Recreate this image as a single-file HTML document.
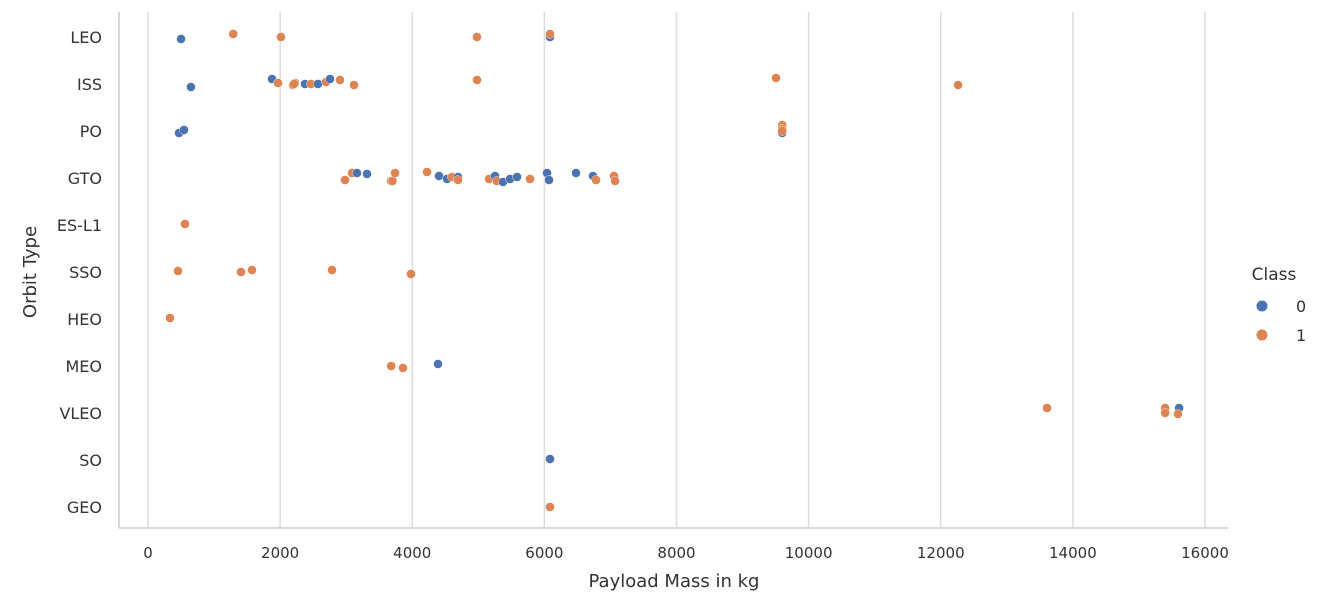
<!DOCTYPE html>
<html><head><meta charset="utf-8"><style>
body{margin:0;background:#fff;}
svg{display:block;font-family:"DejaVu Sans","Liberation Sans",sans-serif;}
</style></head><body>
<svg id="c" width="1323" height="615"></svg>
<script>
const orbits=["LEO","ISS","PO","GTO","ES-L1","SSO","HEO","MEO","VLEO","SO","GEO"];
const xTicks=[0,2000,4000,6000,8000,10000,12000,14000,16000];
const payloads=[500,1290,2013,4980,6085,6085,
650,1877,1968,2195,2225,2210,2377,2467,2573,2695,2755,2906,3118,4980,9506,12262,
470,545,9600,9600,9600,9600,
2982,3088,3164,3315,3680,3700,3740,4223,4405,4526,4600,4693,4693,5162,5253,5280,5374,5480,5586,5783,6040,6070,6479,6736,6782,7054,7070,
560,454,1408,1574,2785,3981,333,3680,3860,4390,
13609,15396,15396,15607,15590,6085,6085];
const orbitOf=[0,0,0,0,0,0,
1,1,1,1,1,1,1,1,1,1,1,1,1,1,1,1,
2,2,2,2,2,2,
3,3,3,3,3,3,3,3,3,3,3,3,3,3,3,3,3,3,3,3,3,3,3,3,3,3,3,
4,5,5,5,5,5,6,7,7,7,
8,8,8,8,8,9,10];
const classes=[0,1,1,1,0,1,
0,0,1,1,1,1,0,1,0,1,0,1,1,1,1,1,
0,0,0,1,1,1,
1,1,0,0,1,1,1,1,0,0,1,0,1,1,0,1,0,0,0,1,0,0,0,0,1,1,1,
1,1,1,1,1,1,1,1,1,0,
1,1,1,0,1,0,1];
const jitter=[2,-3,0,0,0,-3,
3,-5,-1,1,-1,0,0,0,0,-2,-5,-4,1,-4,-6,1,
2,-1,2,-6,-2,0,
2,-5,-5,-4,3,3,-5,-6,-2,1,-1,-1,2,1,-2,3,4,1,-1,1,-5,2,-5,-2,2,-2,3,
-1,-1,0,-2,-2,2,-1,0,2,-2,
-5,-5,0,-5,1,-1,0];
const NS="http://www.w3.org/2000/svg";
const svg=document.getElementById('c');
const X0=148,X1=1205,Y0=37,DY=47;
const xs=v=>X0+(X1-X0)*v/16000;
const ys=i=>Y0+DY*i;
function mk(t,a,txt){const e=document.createElementNS(NS,t);for(const k in a)e.setAttribute(k,a[k]);if(txt!=null)e.textContent=txt;svg.appendChild(e);return e;}
xTicks.forEach(t=>{
 const g=mk('line',{x1:xs(t),x2:xs(t),y1:12,y2:528,stroke:'#dcdcdc','stroke-width':1.5});
 
 
 const l=mk('text',{x:xs(t),y:558,'text-anchor':'middle','font-size':15,fill:'#333'},t);
 
 
});
const sp1=mk('line',{x1:119,x2:119,y1:12,y2:528,stroke:'#ccc','stroke-width':1.5});


const sp2=mk('line',{x1:119,x2:1228,y1:528,y2:528,stroke:'#ccc','stroke-width':1.5});


orbits.forEach((o,i)=>{
 const l=mk('text',{x:102,y:ys(i)+6,'text-anchor':'end','font-size':16,fill:'#333'},o);
 
 
});
const cols=['#4c72b0','#dd8452'];
payloads.forEach((p,i)=>{
 const c=mk('circle',{cx:xs(p),cy:ys(orbitOf[i])+jitter[i],r:4.5,fill:cols[classes[i]],stroke:'#fff','stroke-width':0.4});
 
 
});
</script>
<svg style="position:absolute;left:0;top:0" width="1323" height="615">
<text x="674" y="587" text-anchor="middle" font-size="18" fill="#333" font-family="DejaVu Sans,Liberation Sans,sans-serif">Payload Mass in kg</text>
<text transform="translate(36,272) rotate(-90)" text-anchor="middle" font-size="18" fill="#333" font-family="DejaVu Sans,Liberation Sans,sans-serif">Orbit Type</text>
<g font-family="DejaVu Sans,Liberation Sans,sans-serif" fill="#333">
<text x="1274" y="280" text-anchor="middle" font-size="17">Class</text>
<circle cx="1262" cy="306" r="5.5" fill="#4c72b0"/>
<text x="1296" y="312" font-size="16">0</text>
<circle cx="1262" cy="335" r="5.5" fill="#dd8452"/>
<text x="1296" y="341" font-size="16">1</text>
</g>
</svg>
</body></html>
